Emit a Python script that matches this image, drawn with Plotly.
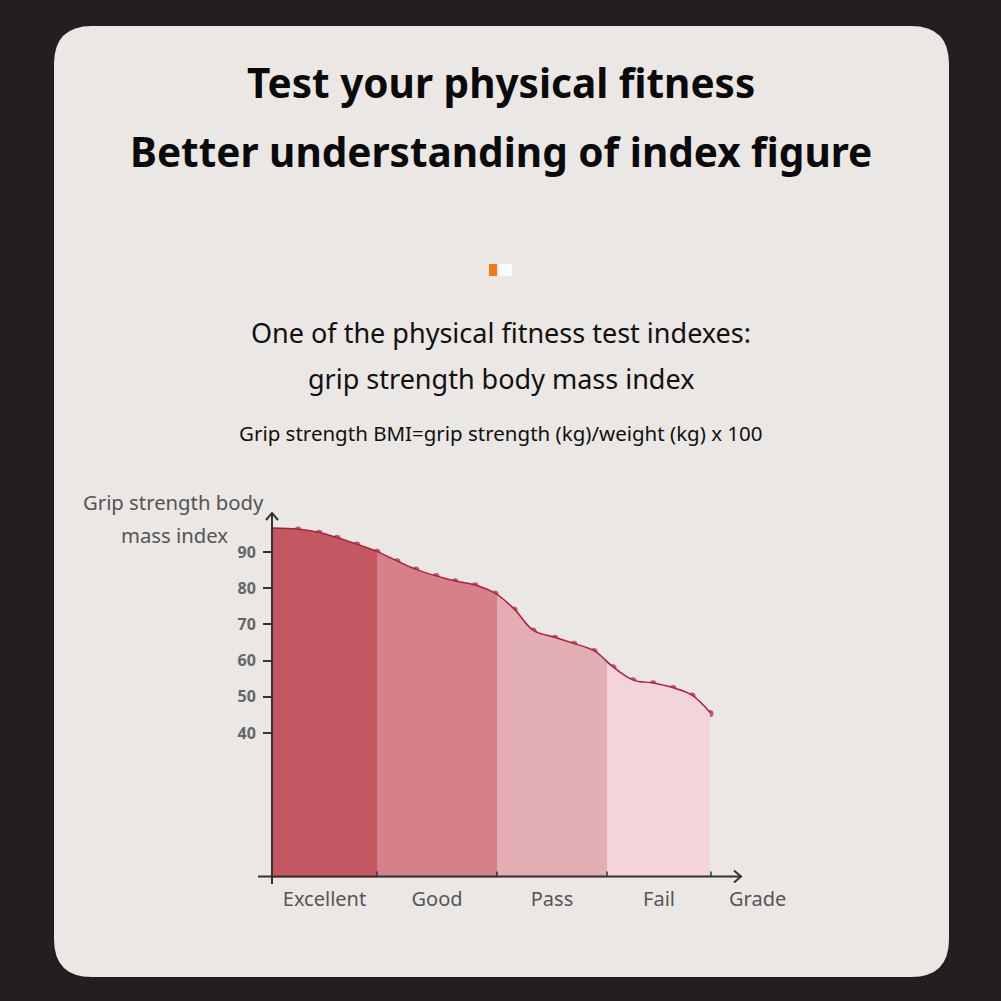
import plotly.graph_objects as go

# ---------------- data ----------------
grades = ["Excellent", "Good", "Pass", "Fail"]
grade_edges = [0, 1.05, 2.25, 3.35, 4.39]          # band boundaries along the grade axis
band_colors = ["#c35863", "#d5808a", "#e2adb3", "#f2d4d9"]
curve_x = [0, 0.26, 0.47, 0.65, 0.85, 1.05, 1.25, 1.44, 1.64, 1.83, 2.03, 2.23,
           2.42, 2.61, 2.83, 3.02, 3.22, 3.41, 3.61, 3.81, 4.01, 4.20, 4.38]
curve_y = [96.4, 96.1, 95.2, 93.8, 91.9, 89.9, 87.3, 85.0, 83.2, 81.8, 80.7, 78.4,
           74.0, 68.2, 66.2, 64.5, 62.5, 58.0, 54.4, 53.6, 52.3, 50.2, 45.4]
y_ticks = [40, 50, 60, 70, 80, 90]

# ---------------- geometry helpers (pixel -> paper) ----------------
W = H = 1001
def fx(p):
    return p / W
def fy(p):
    return 1 - p / H

X0_PX, PX_PER_UNIT = 272, 100.0
X_RANGE = [0, 4.73]
Y_BOTTOM_PX, Y_TOP_PX = 877.8, 505
Y_RANGE = [0, (Y_BOTTOM_PX - Y_TOP_PX) / 3.62]

fig = go.Figure()

LINE_COL = "#aa2239"

# band fills: full spline fill clipped into each band's own sub-axis
for i, col in enumerate(band_colors):
    ax = f"x{i + 2}"
    fig.add_trace(go.Scatter(
        x=curve_x, y=curve_y, mode="lines", line=dict(width=0, shape="spline", smoothing=1),
        fill="tozeroy", fillcolor=col, xaxis=ax, yaxis="y", hoverinfo="skip", showlegend=False))

# curve line with dots
marker_sizes = [0] + [7] * (len(curve_x) - 1)
fig.add_trace(go.Scatter(
    x=curve_x, y=curve_y, mode="lines+markers",
    line=dict(color=LINE_COL, width=3, shape="spline", smoothing=1),
    marker=dict(color=LINE_COL, size=marker_sizes, line=dict(width=0)),
    xaxis="x", yaxis="y", showlegend=False, cliponaxis=False))

layout_axes = {}
for i in range(4):
    a, b = grade_edges[i], grade_edges[i + 1]
    layout_axes[f"xaxis{i + 2}"] = dict(
        domain=[fx(X0_PX + a * PX_PER_UNIT), fx(X0_PX + b * PX_PER_UNIT)],
        range=[a, b], visible=False, anchor="y", fixedrange=True)

centers = [(grade_edges[i] + grade_edges[i + 1]) / 2 for i in range(4)]

shapes = []
# card
L, T, R, B, r = 54, 26, 949, 977, 38
path = (f"M {fx(L + r)},{fy(T)} L {fx(R - r)},{fy(T)} "
        f"Q {fx(R)},{fy(T)} {fx(R)},{fy(T + r)} L {fx(R)},{fy(B - r)} "
        f"Q {fx(R)},{fy(B)} {fx(R - r)},{fy(B)} L {fx(L + r)},{fy(B)} "
        f"Q {fx(L)},{fy(B)} {fx(L)},{fy(B - r)} L {fx(L)},{fy(T + r)} "
        f"Q {fx(L)},{fy(T)} {fx(L + r)},{fy(T)} Z")
shapes.append(dict(type="path", path=path, xref="paper", yref="paper",
                   fillcolor="#eae7e4", line=dict(width=0), layer="below"))
# orange / white indicator
shapes.append(dict(type="rect", xref="paper", yref="paper", x0=fx(489), x1=fx(497), y0=fy(276), y1=fy(264),
                   fillcolor="#f27a17", line=dict(width=0)))
shapes.append(dict(type="rect", xref="paper", yref="paper", x0=fx(499), x1=fx(512), y0=fy(276), y1=fy(264),
                   fillcolor="#fbfbfb", line=dict(width=0)))
AX_COL = "#333333"
# y axis line + arrow
shapes.append(dict(type="line", xref="paper", yref="paper", x0=fx(272), x1=fx(272), y0=fy(884), y1=fy(514),
                   line=dict(color=AX_COL, width=2)))
shapes.append(dict(type="path", xref="paper", yref="paper",
                   path=f"M {fx(266)},{fy(520)} L {fx(272)},{fy(513)} L {fx(278)},{fy(520)}",
                   line=dict(color=AX_COL, width=2)))
# x axis line + arrow
AXY = 876.5
shapes.append(dict(type="line", xref="paper", yref="paper", x0=fx(258), x1=fx(740), y0=fy(AXY), y1=fy(AXY),
                   line=dict(color=AX_COL, width=2)))
shapes.append(dict(type="path", xref="paper", yref="paper",
                   path=f"M {fx(734)},{fy(AXY - 6)} L {fx(741)},{fy(AXY)} L {fx(734)},{fy(AXY + 6)}",
                   line=dict(color=AX_COL, width=2)))
# boundary ticks on x axis
for e in grade_edges[1:]:
    shapes.append(dict(type="line", xref="x", yref="paper", x0=e, x1=e, y0=fy(AXY), y1=fy(AXY - 5),
                       line=dict(color=AX_COL, width=1.5)))

FONT = "Noto Sans"
def note(text, x, y, size, color, family=FONT):
    return dict(text=text, x=fx(x), y=fy(y), xref="paper", yref="paper", showarrow=False,
                xanchor="center", yanchor="middle", font=dict(family=family, size=size, color=color))

annotations = [
    note("<b>Test your physical fitness</b>", 500.5, 83, 40.5, "#0a0a0a"),
    note("<b>Better understanding of index figure</b>", 500.5, 152, 40.5, "#0a0a0a"),
    note("One of the physical fitness test indexes:", 501, 332, 27, "#111111"),
    note("grip strength body mass index", 501, 378, 27, "#111111"),
    note("Grip strength BMI=grip strength (kg)/weight (kg) x 100", 500.5, 433, 20.5, "#111111"),
    note("Grip strength body", 173.5, 502, 20.3, "#555555"),
    note("mass index", 174, 535, 20.3, "#555555"),
    note("Grade", 757, 898, 20, "#555555"),
]

fig.update_layout(
    width=W, height=H, autosize=False,
    margin=dict(l=0, r=0, t=0, b=0),
    paper_bgcolor="#231f20", plot_bgcolor="rgba(0,0,0,0)",
    xaxis=dict(domain=[fx(X0_PX), fx(X0_PX + X_RANGE[1] * PX_PER_UNIT)], range=X_RANGE,
               tickvals=centers, ticktext=grades, ticks="", showline=False, showgrid=False,
               zeroline=False, tickfont=dict(family=FONT, size=20, color="#555555"),
               ticklabelstandoff=7, fixedrange=True, anchor="y"),
    yaxis=dict(domain=[fy(Y_BOTTOM_PX), fy(Y_TOP_PX)], range=Y_RANGE, tickvals=y_ticks,
               ticks="outside", ticklen=8, tickwidth=2, tickcolor=AX_COL, showline=False,
               showgrid=False, zeroline=False,
               tickfont=dict(family=FONT, size=16, color="#666666", weight="bold"),
               ticklabelstandoff=4, fixedrange=True, anchor="x"),
    shapes=shapes, annotations=annotations,
    **layout_axes,
)

fig.write_html("out.html", config={"displayModeBar": False},
               post_script="document.body.style.margin='0';document.body.style.overflow='hidden';")
